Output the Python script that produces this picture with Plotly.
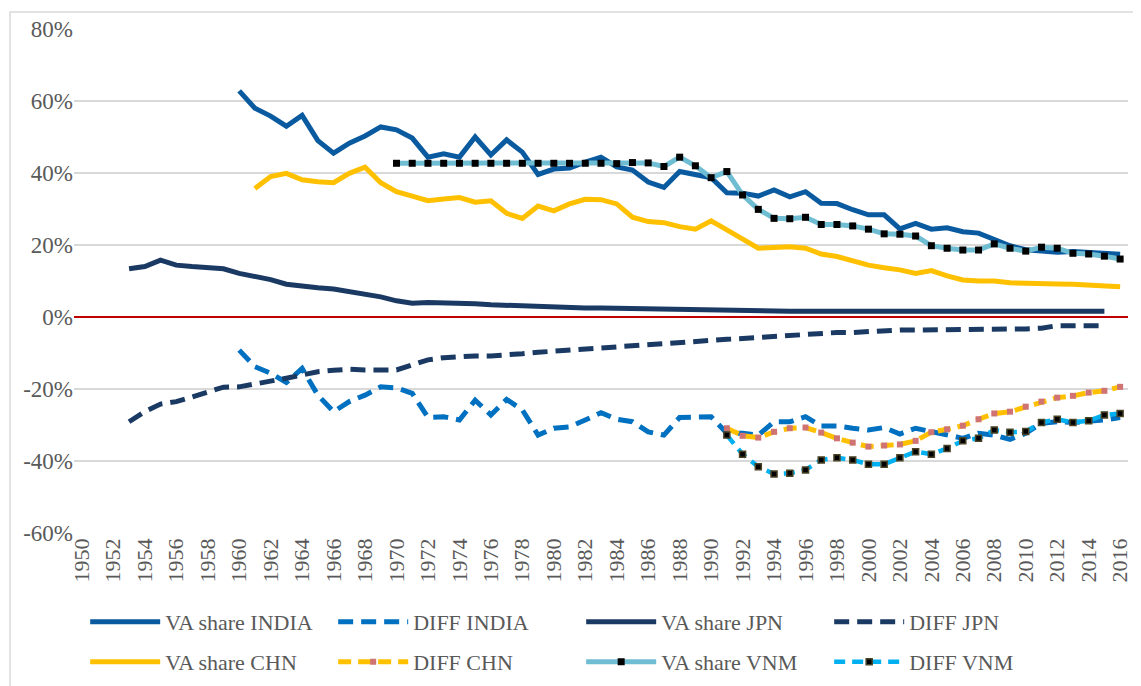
import plotly.graph_objects as go

# years per series
yrs_ind = list(range(1960, 2017))
yrs_jpn = list(range(1953, 2016))
yrs_chn = list(range(1961, 2017))
yrs_vnm = list(range(1970, 2017))
yrs_diff = list(range(1991, 2017))

va_india = [62.8, 58.0, 55.8, 53.0, 56.0, 49.0, 45.5, 48.3, 50.3, 52.8,
            52.0, 49.7, 44.4, 45.3, 44.4, 50.0, 45.0, 49.2, 45.8, 39.6,
            41.1, 41.4, 43.0, 44.4, 41.7, 40.8, 37.5, 36.0, 40.4, 39.4,
            38.7, 34.5, 34.4, 33.6, 35.3, 33.4, 34.8, 31.6, 31.5, 29.8,
            28.4, 28.4, 24.5, 26.0, 24.4, 24.8, 23.7, 23.3, 21.6, 19.8,
            18.7, 18.2, 18.0, 18.2, 17.9, 17.6, 17.4]

diff_india = [-9.2, -13.8, -15.6, -18.2, -14.3, -21.7, -26.3, -23.5, -21.7, -19.4,
              -19.7, -21.2, -27.9, -27.7, -28.6, -23.1, -27.2, -22.9, -25.8, -32.8,
              -30.9, -30.5, -28.6, -26.6, -28.4, -29.1, -31.9, -32.8, -27.9, -27.7,
              -27.7, -32.3, -32.3, -32.8, -29.1, -29.1, -27.7, -30.3, -30.3, -30.9,
              -31.4, -30.7, -32.5, -30.9, -31.8, -32.8, -33.7, -32.3, -32.8, -34.0,
              -32.3, -29.5, -29.1, -29.3, -29.1, -28.6, -27.9]

va_jpn = [13.4, 14.0, 15.8, 14.4, 14.0, 13.6, 13.4, 12.1, 11.3, 10.4,
          9.1, 8.5, 8.1, 7.8, 7.1, 6.3, 5.6, 4.5, 3.8, 4.0,
          4.0, 3.9, 3.7, 3.4, 3.2, 3.0, 2.8, 2.6, 2.5, 2.5,
          2.5, 2.4, 2.4, 2.3, 2.3, 2.1, 2.0, 1.9, 1.8, 1.8,
          1.6, 1.6, 1.6, 1.6, 1.6, 1.7, 1.7, 1.7, 1.7, 1.8,
          1.7, 1.6, 1.6, 1.6, 1.6, 1.7, 1.7, 1.7, 1.6, 1.7,
          1.7, 1.7, 1.6]

diff_jpn = [-29.1, -26.3, -24.2, -23.5, -22.2, -21.0, -19.5, -19.4, -18.7, -18.0,
            -17.0, -16.1, -15.2, -14.8, -14.5, -14.7, -14.7, -14.7, -13.3, -11.9,
            -11.3, -11.0, -10.8, -10.8, -10.6, -10.2, -9.8, -9.5, -9.2, -8.8,
            -8.3, -8.1, -7.9, -7.6, -7.3, -7.1, -6.8, -6.5, -6.2, -6.0,
            -5.7, -5.5, -5.2, -4.9, -4.6, -4.3, -4.3, -4.0, -3.8, -3.6,
            -3.6, -3.6, -3.6, -3.6, -3.5, -3.5, -3.5, -3.3, -3.1, -2.4,
            -2.4, -2.4, -2.4]

va_chn = [35.7, 39.0, 39.9, 38.1, 37.6, 37.3, 39.9, 41.6, 37.3, 34.8,
          33.6, 32.3, 32.8, 33.2, 31.9, 32.3, 28.8, 27.4, 30.8, 29.5,
          31.4, 32.7, 32.6, 31.4, 27.7, 26.5, 26.2, 25.1, 24.4, 26.7,
          24.2, 21.6, 19.1, 19.3, 19.5, 19.1, 17.5, 16.8, 15.6, 14.4,
          13.7, 13.1, 12.1, 12.9, 11.4, 10.3, 10.0, 10.0, 9.5, 9.3,
          9.2, 9.2, 9.1, 8.9, 8.6, 8.4]

diff_chn = [-30.9, -33.0, -33.5, -31.9, -30.9, -30.7, -32.1, -33.7, -34.9, -36.0,
            -35.7, -35.4, -34.4, -32.0, -31.2, -30.2, -28.4, -26.8, -26.3, -24.9,
            -23.5, -22.4, -21.9, -21.0, -20.5, -19.4]

va_vnm = [42.7, 42.7, 42.7, 42.7, 42.7, 42.7, 42.7, 42.7, 42.7, 42.7,
          42.7, 42.7, 42.7, 42.7, 42.6, 42.9, 42.8, 41.8, 44.4, 42.0,
          38.7, 40.4, 33.9, 29.9, 27.4, 27.3, 27.7, 25.7, 25.7, 25.3,
          24.4, 23.1, 23.0, 22.5, 19.8, 19.1, 18.6, 18.6, 20.3, 19.1,
          18.3, 19.4, 19.1, 17.7, 17.5, 16.9, 16.1]

diff_vnm = [-32.8, -38.1, -41.6, -43.6, -43.4, -42.5, -39.7, -39.1, -39.7, -40.9,
            -40.9, -39.1, -37.4, -38.1, -36.5, -34.4, -33.7, -31.4, -32.0, -31.8,
            -29.3, -28.4, -29.3, -28.8, -27.2, -26.8]

y_ticks = [-0.6, -0.4, -0.2, 0, 0.2, 0.4, 0.6, 0.8]
y_labels = ['-60%', '-40%', '-20%', '0%', '20%', '40%', '60%', '80%']
x_ticks = list(range(1950, 2017, 2))

FONT = 'Liberation Serif, Times New Roman, DejaVu Serif, serif'
GREY = '#595959'

def pct(v):
    return [x / 100 for x in v]

fig = go.Figure()

# row 1 of legend -> legend, row 2 -> legend2
fig.add_trace(go.Scatter(x=yrs_ind, y=pct(va_india), name='VA share INDIA', mode='lines',
                         line=dict(color='#0A5AA0', width=5), legend='legend'))
fig.add_trace(go.Scatter(x=yrs_ind, y=pct(diff_india), name='DIFF INDIA', mode='lines',
                         line=dict(color='#0070C0', width=5, dash='15px,8px'), legend='legend'))
fig.add_trace(go.Scatter(x=yrs_jpn, y=pct(va_jpn), name='VA share JPN', mode='lines',
                         line=dict(color='#1B3A63', width=5), legend='legend'))
fig.add_trace(go.Scatter(x=yrs_jpn, y=pct(diff_jpn), name='DIFF JPN', mode='lines',
                         line=dict(color='#1B3A63', width=5, dash='15px,8px'), legend='legend'))
fig.add_trace(go.Scatter(x=yrs_chn, y=pct(va_chn), name='VA share CHN', mode='lines',
                         line=dict(color='#FFC000', width=5), legend='legend2'))
fig.add_trace(go.Scatter(x=yrs_diff, y=pct(diff_chn), name='DIFF CHN', mode='lines+markers',
                         line=dict(color='#FFC000', width=5, dash='13px,7px'),
                         marker=dict(symbol='square', size=6, color='#CF7373'), legend='legend2'))
fig.add_trace(go.Scatter(x=yrs_vnm, y=pct(va_vnm), name='VA share VNM', mode='lines+markers',
                         line=dict(color='#6FBDD3', width=5),
                         marker=dict(symbol='square', size=7, color='black'), legend='legend2'))
fig.add_trace(go.Scatter(x=yrs_diff, y=pct(diff_vnm), name='DIFF VNM', mode='lines+markers',
                         line=dict(color='#00B0F0', width=4.5, dash='11px,7px'),
                         marker=dict(symbol='square', size=6, color='black',
                                     line=dict(color='#4A4326', width=1.5)), legend='legend2'))

leg = dict(orientation='h', x=0.0106, xanchor='left', yanchor='middle',
           entrywidth=163, entrywidthmode='pixels', itemwidth=70,
           font=dict(family=FONT, size=22, color=GREY), bgcolor='rgba(0,0,0,0)')

# page body has an 8px margin, so the figure is 8px smaller than the window
fig.update_layout(
    width=1133, height=678,
    paper_bgcolor='white', plot_bgcolor='white',
    font=dict(family=FONT, size=21, color=GREY),
    margin=dict(l=66, r=13, t=21, b=153, autoexpand=False),
    xaxis=dict(range=[1949.5, 2016.5], tickmode='array', tickvals=x_ticks,
               tickangle=-90, showgrid=False, zeroline=False, showline=False,
               automargin=False, tickfont=dict(family=FONT, size=22, color=GREY)),
    yaxis=dict(range=[-0.6, 0.8], tickmode='array', tickvals=y_ticks, ticktext=y_labels,
               showgrid=True, gridcolor='#D9D9D9', gridwidth=1.5,
               zeroline=True, zerolinecolor='#C00000', zerolinewidth=2,
               showline=False, ticks='', automargin=False,
               tickfont=dict(family=FONT, size=23, color=GREY)),
    showlegend=True,
    legend=dict(leg, y=-0.1766),
    legend2=dict(leg, y=-0.256),
    shapes=[dict(type='rect', xref='paper', yref='paper',
                 x0=-0.0607, x1=1.05, y0=-0.4, y1=1.0337,
                 line=dict(color='#D9D9D9', width=1.5), layer='below')],
)

fig.write_html('out.html')
